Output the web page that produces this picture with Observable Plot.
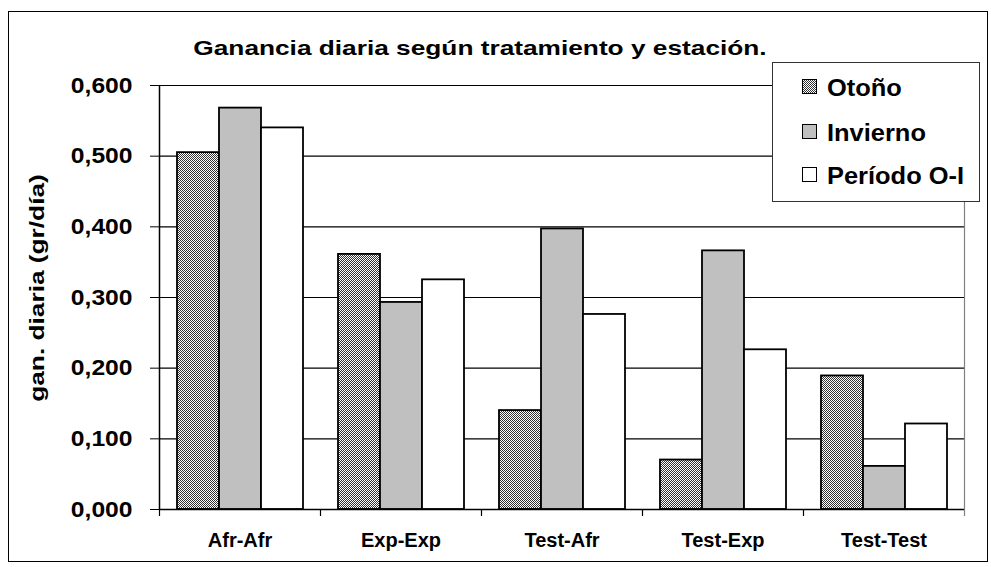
<!DOCTYPE html>
<html>
<head>
<meta charset="utf-8">
<script src="https://cdn.jsdelivr.net/npm/d3@7"></script>
<script src="https://cdn.jsdelivr.net/npm/@observablehq/plot@0.6"></script>
<style>
  html, body { margin: 0; padding: 0; background: #fff; }
  body { width: 991px; height: 567px; position: relative; overflow: hidden; }
  #frame { position: absolute; left: 8px; top: 11px; width: 980px; height: 551px; border: 1px solid #000; box-sizing: border-box; }
  #chart { position: absolute; left: 0; top: 0; }
  #overlay { position: absolute; left: 0; top: 0; }
</style>
</head>
<body>
<div id="frame"></div>
<div id="chart"></div>
<script>
// ---- data ----
const categories = ["Afr-Afr", "Exp-Exp", "Test-Afr", "Test-Exp", "Test-Test"];
const seriesNames = ["Otoño", "Invierno", "Período O-I"];
const otono    = [0.505, 0.361, 0.140, 0.070, 0.189];
const invierno = [0.568, 0.293, 0.397, 0.366, 0.061];
const periodo  = [0.540, 0.325, 0.276, 0.226, 0.121];
const yTicks = [0, 0.1, 0.2, 0.3, 0.4, 0.5, 0.6];
const titleText = "Ganancia diaria según tratamiento y estación.";
const yTitleText = "gan. diaria (gr/día)";

const seriesValues = [otono, invierno, periodo];
const data = categories.flatMap((c, i) => seriesNames.map((s, j) => ({cat: c, serie: s, value: seriesValues[j][i]})));
const fills = {"Otoño": "url(#checker)", "Invierno": "#c0c0c0", "Período O-I": "#ffffff"};
const fmt = d => d.toFixed(3).replace(".", ",");
const FONT = '"Liberation Sans", Arial, sans-serif';

// ---- overlay with pattern defs, title, y title, legend ----
const overlay = d3.select("body").append("svg")
  .attr("id", "overlay").attr("width", 991).attr("height", 567)
  .style("font-family", FONT).style("font-weight", "bold");
const pat = overlay.append("defs").append("pattern")
  .attr("id", "checker").attr("width", 2).attr("height", 2).attr("patternUnits", "userSpaceOnUse");
pat.append("rect").attr("width", 2).attr("height", 2).attr("fill", "#ffffff");
pat.append("rect").attr("width", 1).attr("height", 1).attr("fill", "#333333");
pat.append("rect").attr("x", 1).attr("y", 1).attr("width", 1).attr("height", 1).attr("fill", "#333333");

// ---- chart ----
const chart = Plot.plot({
  width: 991,
  height: 567,
  marginLeft: 157,
  marginRight: 25,
  marginTop: 85,
  marginBottom: 58,
  style: {fontFamily: FONT, fontWeight: "bold", fontSize: "20px", color: "#000", background: "transparent", overflow: "visible"},
  fx: {domain: categories, padding: 0, label: null, axis: "bottom", tickSize: 0, tickPadding: 23},
  x: {domain: seriesNames, paddingInner: 0, paddingOuter: 0.4, axis: null},
  y: {domain: [0, 0.6], ticks: yTicks, tickFormat: fmt, label: null, tickSize: 9, tickPadding: 18},
  color: {type: "identity"},
  marks: [
    Plot.ruleY(yTicks.filter(v => v > 0), {stroke: "#000", strokeWidth: 1.1}),
    Plot.barY(data, {fx: "cat", x: "serie", y: "value", fill: d => fills[d.serie], stroke: "#000", strokeWidth: 1.8}),
    Plot.ruleY([0], {stroke: "#000", strokeWidth: 1.5})
  ]
});
document.getElementById("chart").appendChild(chart);
// move overlay on top
document.body.appendChild(document.getElementById("overlay"));

function stretch(node, f) {
  const L = node.getComputedTextLength();
  node.setAttribute("textLength", L * f);
  node.setAttribute("lengthAdjust", "spacingAndGlyphs");
}

// y tick labels a bit larger and wider, like the reference
const yLabelSet = new Set(yTicks.map(fmt));
chart.querySelectorAll("text").forEach(t => {
  if (yLabelSet.has(t.textContent)) {
    t.setAttribute("font-size", 22);
    stretch(t, 1.12);
  }
});

// axis lines and category ticks from the plot's own scales
const fx = chart.scale("fx");
const y = chart.scale("y");
const svg = d3.select(chart);
const g = svg.append("g");
const y0 = y.apply(0), yTop = y.apply(0.6);
const bounds = categories.map(c => fx.apply(c));
const xEnd = fx.apply(categories[categories.length - 1]) + fx.bandwidth;
g.append("line").attr("x1", xEnd + 0.5).attr("x2", xEnd + 0.5).attr("y1", yTop).attr("y2", y0 + 7)
  .attr("stroke", "#808080").attr("stroke-width", 1.2);
g.append("line").attr("x1", bounds[0] + 0.5).attr("x2", bounds[0] + 0.5).attr("y1", yTop).attr("y2", y0)
  .attr("stroke", "#000").attr("stroke-width", 1.5);
g.selectAll("line.tk").data(bounds).join("line").attr("class", "tk")
  .attr("x1", d => d + 0.5).attr("x2", d => d + 0.5).attr("y1", y0).attr("y2", y0 + 7)
  .attr("stroke", "#000").attr("stroke-width", 1.2);

// title
const title = overlay.append("text").attr("x", 480).attr("y", 47)
  .attr("text-anchor", "middle").attr("dominant-baseline", "central")
  .attr("font-size", 21).text(titleText);
stretch(title.node(), 1.25);

// y title
const yTitle = overlay.append("text").attr("transform", "translate(36,288) rotate(-90)")
  .attr("text-anchor", "middle").attr("dominant-baseline", "central")
  .attr("font-size", 21).text(yTitleText);
stretch(yTitle.node(), 1.25);

// legend
const leg = overlay.append("g");
leg.append("rect").attr("x", 772.5).attr("y", 62.5).attr("width", 207).attr("height", 139)
  .attr("fill", "#fff").attr("stroke", "#333").attr("stroke-width", 1);
const rowY = [87, 132, 175];
seriesNames.forEach((s, i) => {
  leg.append("rect").attr("x", 802.5).attr("y", rowY[i] - 7.5).attr("width", 14).attr("height", 14)
    .attr("fill", fills[s]).attr("stroke", "#000").attr("stroke-width", 1);
  const t = leg.append("text").attr("x", 827).attr("y", rowY[i])
    .attr("dominant-baseline", "central").attr("font-size", 24).text(s);
  stretch(t.node(), 1.06);
});
</script>
</body>
</html>
